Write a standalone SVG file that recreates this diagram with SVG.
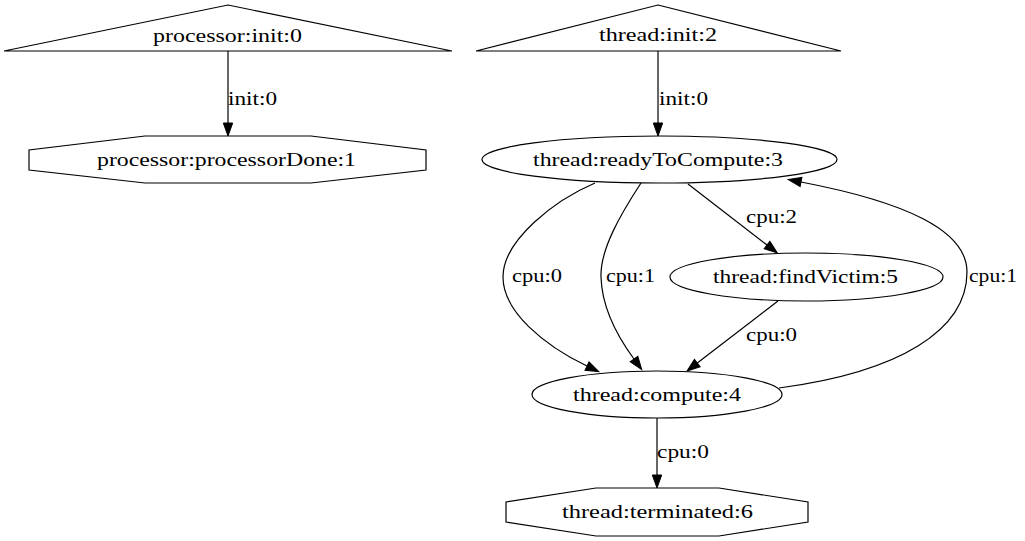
<svg xmlns="http://www.w3.org/2000/svg" width="1025" height="541" viewBox="0 0 1025 541">
<style>
.n{fill:#fff;stroke:#000;stroke-width:1.2}
.e{fill:none;stroke:#000;stroke-width:1.2}
text{font-family:"Liberation Serif","Times New Roman",serif;font-size:19.5px;fill:#000}
</style>
<defs>
<marker id="arr" markerUnits="userSpaceOnUse" markerWidth="14" markerHeight="10" refX="0" refY="5" orient="auto" viewBox="0 0 14 10" overflow="visible">
<path d="M0,0.3 L13,5 L0,9.7 Z" fill="#000" stroke="#000" stroke-width="1"/>
</marker>
</defs>
<rect width="1025" height="541" fill="#fff"/>
<g id="connectors">
<path class="e" d="M228,51 L228,123" marker-end="url(#arr)"/>
<text x="228" y="105" textLength="49" lengthAdjust="spacingAndGlyphs">init:0</text>
<path class="e" d="M658,51 L658,123" marker-end="url(#arr)"/>
<text x="659" y="105" textLength="49" lengthAdjust="spacingAndGlyphs">init:0</text>
<path class="e" d="M595,183 C555,200 503,240 503,277 C503,312 545,346 587,366" marker-end="url(#arr)"/>
<text x="512" y="282" textLength="50" lengthAdjust="spacingAndGlyphs">cpu:0</text>
<path class="e" d="M641,183 C620,215 600,250 601,277 C602,310 620,340 634,359" marker-end="url(#arr)"/>
<text x="606" y="282" textLength="49" lengthAdjust="spacingAndGlyphs">cpu:1</text>
<path class="e" d="M688,184 L767,245" marker-end="url(#arr)"/>
<text x="746" y="223" textLength="51" lengthAdjust="spacingAndGlyphs">cpu:2</text>
<path class="e" d="M778,301 L697.3,363.1" marker-end="url(#arr)"/>
<text x="746" y="341" textLength="51" lengthAdjust="spacingAndGlyphs">cpu:0</text>
<path class="e" d="M779,388 C900,372 967,330 967,272 C967,230 905,202 801,182" marker-end="url(#arr)"/>
<text x="969" y="282" textLength="48" lengthAdjust="spacingAndGlyphs">cpu:1</text>
<path class="e" d="M657,418 L657,475" marker-end="url(#arr)"/>
<text x="657" y="458" textLength="52" lengthAdjust="spacingAndGlyphs">cpu:0</text>
</g>
<g id="processor_init_0">
<polygon class="n" points="228,5 452,51 4,51"/>
<text x="153" y="42" textLength="149" lengthAdjust="spacingAndGlyphs">processor:init:0</text>
</g>
<g id="processor_processorDone_1">
<polygon class="n" points="145,136 311,136 426,150 426,170 311,183 145,183 29,170 29,150"/>
<text x="97" y="166" textLength="259" lengthAdjust="spacingAndGlyphs">processor:processorDone:1</text>
</g>
<g id="thread_init_2">
<polygon class="n" points="658,5 841,51 476,51"/>
<text x="599" y="41" textLength="118" lengthAdjust="spacingAndGlyphs">thread:init:2</text>
</g>
<g id="thread_readyToCompute_3">
<ellipse class="n" cx="659.5" cy="159.5" rx="177.5" ry="23.5"/>
<text x="533" y="166" textLength="250" lengthAdjust="spacingAndGlyphs">thread:readyToCompute:3</text>
</g>
<g id="thread_findVictim_5">
<ellipse class="n" cx="806.5" cy="277" rx="136.5" ry="24"/>
<text x="713" y="283" textLength="185" lengthAdjust="spacingAndGlyphs">thread:findVictim:5</text>
</g>
<g id="thread_compute_4">
<ellipse class="n" cx="657" cy="394.5" rx="125" ry="23.5"/>
<text x="573" y="400.5" textLength="168" lengthAdjust="spacingAndGlyphs">thread:compute:4</text>
</g>
<g id="thread_terminated_6">
<polygon class="n" points="596,488 719,488 808,502 808,522 719,536 596,536 506,522 506,502"/>
<text x="562" y="518" textLength="191" lengthAdjust="spacingAndGlyphs">thread:terminated:6</text>
</g>
</svg>
